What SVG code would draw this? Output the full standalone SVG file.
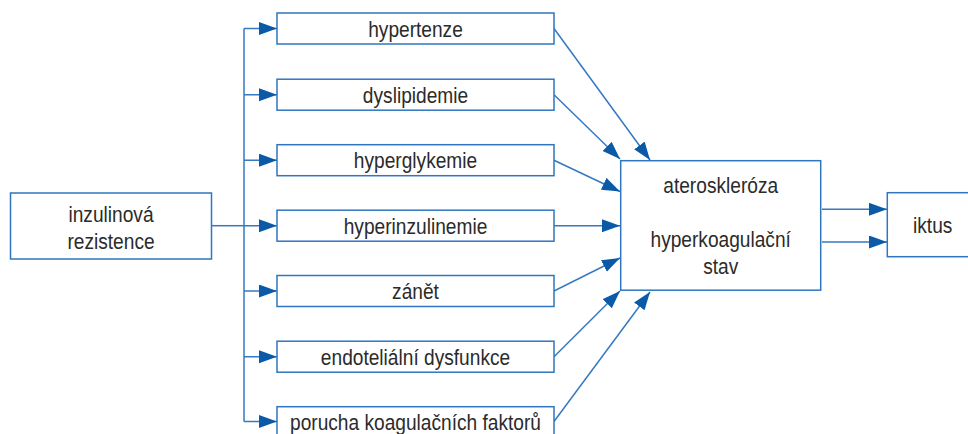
<svg xmlns="http://www.w3.org/2000/svg" width="968" height="434" viewBox="0 0 968 434">
<defs>
<style>
.box{fill:#fff;stroke:#2f76bf;stroke-width:1.5}
.lbl{font-family:"Liberation Sans",Arial,sans-serif;font-size:22px;fill:#2b2b2b;text-anchor:middle}
.ln{fill:none;stroke:#3579c2;stroke-width:1.5}
</style>
<marker id="ah" markerUnits="userSpaceOnUse" markerWidth="20" markerHeight="14" refX="18" refY="6.5" orient="auto">
<path d="M0,0 L18,6.5 L0,13 Z" fill="#0b5aa8"/>
</marker>
</defs>
<rect width="968" height="434" fill="#fff"/>
<g id="connectors">
<path class="ln" d="M212,225.7 H244"/>
<path class="ln" d="M244,28.5 V421.5"/>
<path class="ln" d="M244,28.5 H277" marker-end="url(#ah)"/>
<path class="ln" d="M244,94.7 H277" marker-end="url(#ah)"/>
<path class="ln" d="M244,160.2 H277" marker-end="url(#ah)"/>
<path class="ln" d="M244,225.7 H277" marker-end="url(#ah)"/>
<path class="ln" d="M244,291 H277" marker-end="url(#ah)"/>
<path class="ln" d="M244,356.7 H277" marker-end="url(#ah)"/>
<path class="ln" d="M244,421.5 H277" marker-end="url(#ah)"/>
<path class="ln" d="M554,28.5 L650,160" marker-end="url(#ah)"/>
<path class="ln" d="M554,94.7 L620,159" marker-end="url(#ah)"/>
<path class="ln" d="M554,160.2 L620,191.5" marker-end="url(#ah)"/>
<path class="ln" d="M554,225.7 L620,225.7" marker-end="url(#ah)"/>
<path class="ln" d="M554,291 L620,258" marker-end="url(#ah)"/>
<path class="ln" d="M554,356.7 L620,291" marker-end="url(#ah)"/>
<path class="ln" d="M554,421.5 L650,292" marker-end="url(#ah)"/>
<path class="ln" d="M822,209.3 H887" marker-end="url(#ah)"/>
<path class="ln" d="M822,242 H887" marker-end="url(#ah)"/>
</g>
<g id="inzulinova-rezistence">
<rect class="box" x="10.5" y="193" width="201" height="66"/>
<text class="lbl" transform="translate(111,222) scale(0.87,1)">inzulinová</text>
<text class="lbl" transform="translate(111,249) scale(0.87,1)">rezistence</text>
</g>
<g id="hypertenze">
<rect class="box" x="277" y="13" width="277" height="31"/>
<text class="lbl" transform="translate(415.5,36.5) scale(0.87,1)">hypertenze</text>
</g>
<g id="dyslipidemie">
<rect class="box" x="277" y="79.2" width="277" height="31"/>
<text class="lbl" transform="translate(415.5,102.7) scale(0.87,1)">dyslipidemie</text>
</g>
<g id="hyperglykemie">
<rect class="box" x="277" y="144.7" width="277" height="31"/>
<text class="lbl" transform="translate(415.5,168.2) scale(0.87,1)">hyperglykemie</text>
</g>
<g id="hyperinzulinemie">
<rect class="box" x="277" y="210.2" width="277" height="31"/>
<text class="lbl" transform="translate(415.5,233.7) scale(0.87,1)">hyperinzulinemie</text>
</g>
<g id="zanet">
<rect class="box" x="277" y="275.5" width="277" height="31"/>
<text class="lbl" transform="translate(415.5,299) scale(0.87,1)">zánět</text>
</g>
<g id="endotelialni-dysfunkce">
<rect class="box" x="277" y="341.2" width="277" height="31"/>
<text class="lbl" transform="translate(415.5,364.7) scale(0.87,1)">endoteliální dysfunkce</text>
</g>
<g id="porucha-koagulacnich-faktoru">
<rect class="box" x="277" y="406.7" width="277" height="31"/>
<text class="lbl" transform="translate(415.5,430.2) scale(0.87,1)">porucha koagulačních faktorů</text>
</g>
<g id="ateroskleroza-hyperkoagulacni-stav">
<rect class="box" x="620.7" y="160.7" width="200" height="129.5"/>
<text class="lbl" transform="translate(720.7,192.7) scale(0.87,1)">ateroskleróza</text>
<text class="lbl" transform="translate(720.7,247) scale(0.87,1)">hyperkoagulační</text>
<text class="lbl" transform="translate(720.7,274) scale(0.87,1)">stav</text>
</g>
<g id="iktus">
<rect class="box" x="887.3" y="192.7" width="90" height="64"/>
<text class="lbl" transform="translate(932.7,232.7) scale(0.87,1)">iktus</text>
</g>
</svg>
